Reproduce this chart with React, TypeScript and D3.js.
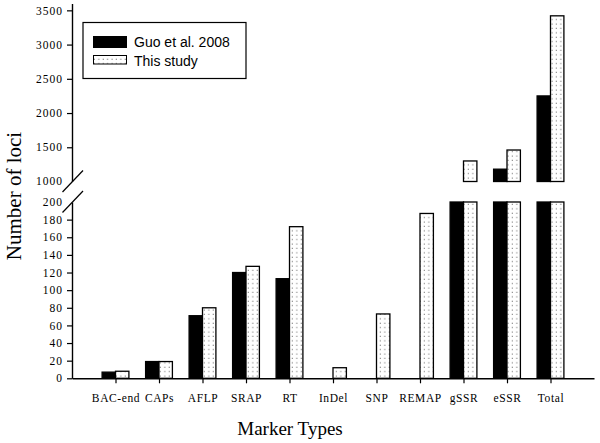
import React, { useEffect, useRef } from 'react';
import * as d3 from 'd3';

const categories = ['BAC-end', 'CAPs', 'AFLP', 'SRAP', 'RT', 'InDel', 'SNP', 'REMAP', 'gSSR', 'eSSR', 'Total'];
const guo2008 = [7, 19, 71, 120, 113, 0, 0, 0, 740, 1180, 2250];
const thisStudy = [8, 19, 80, 127, 172, 12, 73, 187, 1300, 1460, 3420];
const lowTicks = [0, 20, 40, 60, 80, 100, 120, 140, 160, 180];
const highTicks = [1500, 2000, 2500, 3000, 3500];
const seriesNames = ['Guo et al. 2008', 'This study'];

export default function App() {
  const ref = useRef<SVGSVGElement | null>(null);

  useEffect(() => {
    const svg = d3.select(ref.current);
    svg.selectAll('*').remove();

    const serif = "'Liberation Serif', 'Times New Roman', serif";
    const sans = "'Liberation Sans', Arial, sans-serif";

    const x = d3.scalePoint<string>().domain(categories).range([72, 594]).padding(1);
    const yLow = d3.scaleLinear().domain([0, 200]).range([378.3, 202]);
    const yHigh = d3.scaleLinear().domain([1000, 3600]).range([181.5, 3.5]);
    const bw = 13.4;
    const fmt = d3.format('d');

    const defs = svg.append('defs');
    const pat = defs.append('pattern')
      .attr('id', 'dots')
      .attr('patternUnits', 'userSpaceOnUse')
      .attr('width', 4.4)
      .attr('height', 4.4);
    pat.append('rect').attr('width', 4.4).attr('height', 4.4).attr('fill', '#fff');
    pat.append('rect').attr('x', 1.5).attr('y', 1.5).attr('width', 1.1).attr('height', 1.1).attr('fill', '#777');

    const series = [
      { values: guo2008, offset: -bw, fill: '#000' },
      { values: thisStudy, offset: 0, fill: 'url(#dots)' },
    ];

    series.forEach(s => {
      // lower segment, capped at 200
      svg.append('g').selectAll('rect')
        .data(categories.map((c, i) => ({ c, v: s.values[i] })).filter(d => d.v > 0))
        .enter()
        .append('rect')
        .attr('x', d => (x(d.c) as number) + s.offset)
        .attr('y', d => yLow(Math.min(d.v, 200)))
        .attr('width', bw)
        .attr('height', d => yLow(0) - yLow(Math.min(d.v, 200)))
        .attr('fill', s.fill)
        .attr('stroke', '#000')
        .attr('stroke-width', 1.3);

      // upper segment, from 1000
      svg.append('g').selectAll('rect')
        .data(categories.map((c, i) => ({ c, v: s.values[i] })).filter(d => d.v > 1000))
        .enter()
        .append('rect')
        .attr('x', d => (x(d.c) as number) + s.offset)
        .attr('y', d => yHigh(d.v))
        .attr('width', bw)
        .attr('height', d => yHigh(1000) - yHigh(d.v))
        .attr('fill', s.fill)
        .attr('stroke', '#000')
        .attr('stroke-width', 1.3);
    });

    const styleAxis = (g: any, fontSize: number, spacing: number) => {
      g.attr('font-family', null).attr('font-size', null);
      g.selectAll('path').attr('stroke', '#000').attr('stroke-width', 1.4);
      g.selectAll('line').attr('stroke', '#000').attr('stroke-width', 1.2);
      g.selectAll('text')
        .style('font-family', serif)
        .style('font-size', fontSize + 'px')
        .style('letter-spacing', spacing + 'px')
        .attr('fill', '#000');
    };

    const gLow = svg.append('g')
      .attr('transform', 'translate(72,0)')
      .call(d3.axisLeft(yLow).tickValues(lowTicks).tickFormat(fmt).tickSize(5).tickSizeOuter(0).tickPadding(4));
    gLow.append('text')
      .attr('x', -9).attr('y', yLow(200)).attr('dy', '0.32em')
      .attr('text-anchor', 'end').text('200');
    styleAxis(gLow, 11.5, 1);

    const gHigh = svg.append('g')
      .attr('transform', 'translate(72,0)')
      .call(d3.axisLeft(yHigh).tickValues(highTicks).tickFormat(fmt).tickSize(5).tickSizeOuter(0).tickPadding(4));
    gHigh.append('text')
      .attr('x', -9).attr('y', yHigh(1000)).attr('dy', '0.32em')
      .attr('text-anchor', 'end').text('1000');
    styleAxis(gHigh, 11.5, 1);

    // break marks
    [yHigh(1000), yLow(200)].forEach(yy => {
      svg.append('line')
        .attr('x1', 62.5).attr('y1', yy + 10.5)
        .attr('x2', 83).attr('y2', yy - 11)
        .attr('stroke', '#000').attr('stroke-width', 1.2);
    });

    const gx = svg.append('g')
      .attr('transform', `translate(0,${yLow(0)})`)
      .call(d3.axisBottom(x).tickSize(5).tickSizeOuter(0).tickPadding(11));
    styleAxis(gx, 11.5, 0.6);

    svg.append('text')
      .attr('transform', 'translate(21,196) rotate(-90)')
      .attr('text-anchor', 'middle')
      .style('font-family', serif)
      .style('font-size', '21px')
      .text('Number of loci');

    svg.append('text')
      .attr('x', 290).attr('y', 435)
      .attr('text-anchor', 'middle')
      .style('font-family', serif)
      .style('font-size', '19px')
      .text('Marker Types');

    // legend
    const lg = svg.append('g');
    lg.append('rect')
      .attr('x', 83).attr('y', 22.5).attr('width', 163).attr('height', 56)
      .attr('fill', '#fff').attr('stroke', '#000').attr('stroke-width', 1.2);
    seriesNames.forEach((name, i) => {
      const yy = i === 0 ? 36.5 : 55.5;
      lg.append('rect')
        .attr('x', 93.5).attr('y', yy).attr('width', 33).attr('height', i === 0 ? 11 : 8.5)
        .attr('fill', series[i].fill).attr('stroke', '#000').attr('stroke-width', 1);
      lg.append('text')
        .attr('x', 134).attr('y', i === 0 ? 47 : 65.5)
        .style('font-family', sans)
        .style('font-size', '14px')
        .text(name);
    });
  }, []);

  return (
    <svg
      ref={ref}
      width={600}
      height={443}
      style={{ position: 'absolute', left: 0, top: 0, background: '#fff' }}
    />
  );
}
